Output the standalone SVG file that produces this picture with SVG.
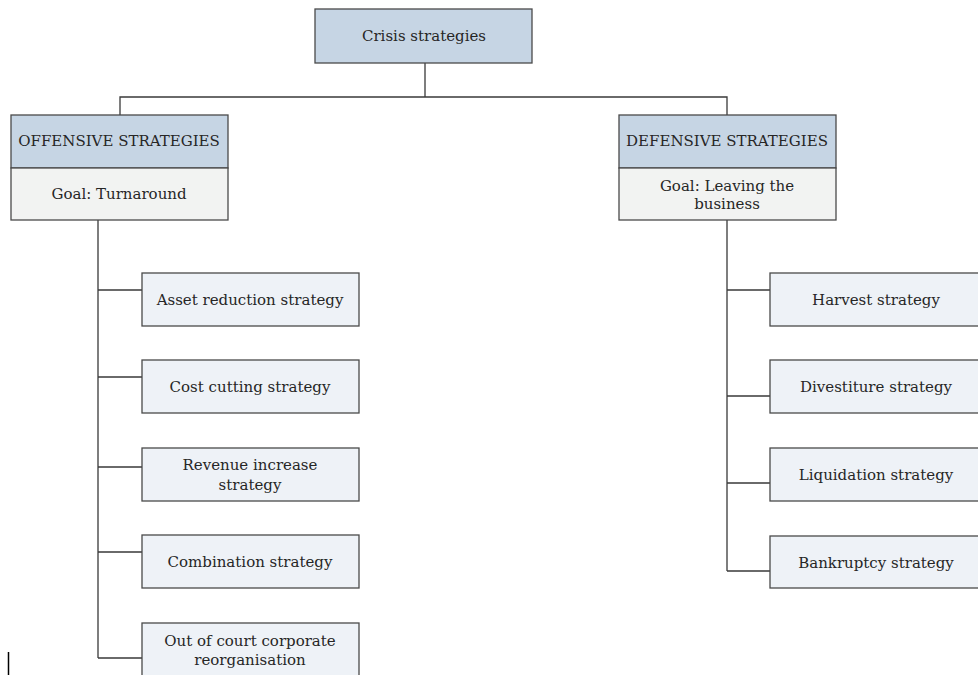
<svg xmlns="http://www.w3.org/2000/svg" width="978" height="675" viewBox="0 0 978 675">
<style>
.hd{fill:#c6d5e4;stroke:#4a4a4a;stroke-width:1.3}
.gl{fill:#f2f3f2;stroke:#4a4a4a;stroke-width:1.3}
.ch{fill:#eef2f7;stroke:#4a4a4a;stroke-width:1.3}
text{font-family:"DejaVu Serif","Liberation Serif",serif;font-size:15px;fill:#262626;text-anchor:middle}
.ln{stroke:#3a3a3a;stroke-width:1.3;fill:none}
</style>
<rect width="978" height="675" fill="#ffffff"/>
<g id="connectors">
<path class="ln" d="M425 63V97M120 115V97H727V115"/>
<path class="ln" d="M98 220V658M98 290H142M98 377H142M98 467H142M98 552H142M98 658H142"/>
<path class="ln" d="M727 220V571M727 290H770M727 396H770M727 483H770M727 571H770"/>
</g>
<g id="root"><rect class="hd" x="315" y="9" width="217" height="54"/><text x="424" y="41">Crisis strategies</text></g>
<g id="offensive"><rect class="hd" x="11" y="115" width="217" height="53"/><text x="119" y="146">OFFENSIVE STRATEGIES</text><rect class="gl" x="11" y="168" width="217" height="52"/><text x="119" y="199">Goal: Turnaround</text></g>
<g id="defensive"><rect class="hd" x="619" y="115" width="217" height="53"/><text x="727" y="146">DEFENSIVE STRATEGIES</text><rect class="gl" x="619" y="168" width="217" height="52"/><text x="727" y="191">Goal: Leaving the</text><text x="727" y="209">business</text></g>
<g id="asset"><rect class="ch" x="142" y="273" width="217" height="53"/><text x="250" y="305">Asset reduction strategy</text></g>
<g id="cost"><rect class="ch" x="142" y="360" width="217" height="53"/><text x="250" y="392">Cost cutting strategy</text></g>
<g id="revenue"><rect class="ch" x="142" y="448" width="217" height="53"/><text x="250" y="470">Revenue increase</text><text x="250" y="490">strategy</text></g>
<g id="combination"><rect class="ch" x="142" y="535" width="217" height="53"/><text x="250" y="567">Combination strategy</text></g>
<g id="outofcourt"><rect class="ch" x="142" y="623" width="217" height="60"/><text x="250" y="646">Out of court corporate</text><text x="250" y="665">reorganisation</text></g>
<g id="harvest"><rect class="ch" x="770" y="273" width="217" height="53"/><text x="876" y="305">Harvest strategy</text></g>
<g id="divestiture"><rect class="ch" x="770" y="360" width="217" height="53"/><text x="876" y="392">Divestiture strategy</text></g>
<g id="liquidation"><rect class="ch" x="770" y="448" width="217" height="53"/><text x="876" y="480">Liquidation strategy</text></g>
<g id="bankruptcy"><rect class="ch" x="770" y="536" width="217" height="52"/><text x="876" y="568">Bankruptcy strategy</text></g>
<line x1="8.5" y1="652" x2="8.5" y2="675" stroke="#000" stroke-width="1.5"/>
</svg>
